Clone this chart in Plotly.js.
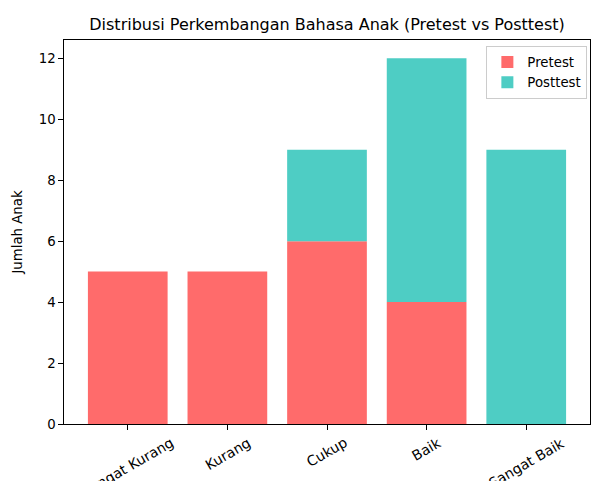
<!DOCTYPE html>
<html>
<head>
<meta charset="utf-8">
<script src="https://cdn.plot.ly/plotly-3.0.1.min.js"></script>
<style>html,body{margin:0;padding:0;background:#fff;}#chart{width:592px;height:481px;}</style>
</head>
<body>
<div id="chart"></div>
<script>
const categories = ["Sangat Kurang", "Kurang", "Cukup", "Baik", "Sangat Baik"];
const pretest = [5, 5, 6, 4, 0];
const posttest = [0, 0, 3, 8, 9];
const yTicks = [0, 2, 4, 6, 8, 10, 12];

const FONT = "DejaVu Sans, sans-serif";
const idx = categories.map((c, i) => i);

const traces = [
  {type: "bar", name: "Pretest", x: idx, y: pretest, width: 0.8,
   marker: {color: "#FF6B6B", line: {width: 0}}, hoverinfo: "none"},
  {type: "bar", name: "Posttest", x: idx, y: posttest, base: pretest, width: 0.8,
   marker: {color: "#4ECDC4", line: {width: 0}}, hoverinfo: "none"}
];

const annotations = categories.map((c, i) => ({
  text: c, x: i, xref: "x", y: 0, yref: "paper", yanchor: "top", xanchor: "center",
  yshift: -9, textangle: -30, showarrow: false, borderpad: 0,
  font: {family: FONT, size: 14, color: "#000"}
}));

const layout = {
  width: 592, height: 481,
  margin: {l: 64, r: 2, t: 40, b: 57},
  paper_bgcolor: "#fff", plot_bgcolor: "#fff",
  barmode: "overlay",
  showlegend: true,
  font: {family: FONT, size: 13.3, color: "#000"},
  title: {text: "Distribusi Perkembangan Bahasa Anak (Pretest vs Posttest)",
          x: 0.5, xref: "paper", xanchor: "center",
          y: 1 - 24 / 481, yref: "container", yanchor: "middle",
          font: {family: FONT, size: 16, color: "#000"}},
  xaxis: {range: [-0.64, 4.64], tickvals: idx, showticklabels: false,
          ticks: "outside", ticklen: 4.7, tickwidth: 1, tickcolor: "#000",
          showline: true, linecolor: "#000", linewidth: 1, mirror: true,
          showgrid: false, zeroline: false, fixedrange: true},
  yaxis: {range: [0, 12.6], tickvals: yTicks, ticktext: yTicks.map(String),
          ticks: "outside", ticklen: 4.7, tickwidth: 1, tickcolor: "#000",
          showline: true, linecolor: "#000", linewidth: 1, mirror: true,
          showgrid: false, zeroline: false, fixedrange: true,
          title: {text: "Jumlah Anak", standoff: 13, font: {family: FONT, size: 13.3, color: "#000"}}},
  legend: {x: 0.995, xanchor: "right", y: 0.985, yanchor: "top",
           bgcolor: "rgba(255,255,255,0.8)", bordercolor: "#cccccc", borderwidth: 1,
           font: {family: FONT, size: 13.3, color: "#000"}, tracegroupgap: 0},
  annotations: annotations
};

Plotly.newPlot("chart", traces, layout, {displayModeBar: false, staticPlot: true});
</script>
</body>
</html>
